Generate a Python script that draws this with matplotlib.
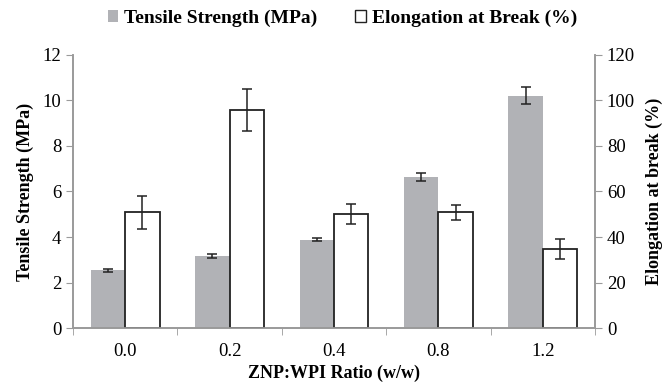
import numpy as np
import matplotlib.pyplot as plt
from matplotlib.patches import Patch

# data
ratios = ['0.0', '0.2', '0.4', '0.8', '1.2']
tensile = [2.53, 3.17, 3.88, 6.65, 10.2]
tensile_err = [0.07, 0.10, 0.06, 0.17, 0.37]
elongation = [50.8, 95.8, 50.0, 50.8, 34.8]
elongation_err = [7.2, 9.3, 4.4, 3.3, 4.3]

plt.rcParams['font.family'] = ['Liberation Serif', 'DejaVu Serif']

fig = plt.figure(figsize=(6.7, 3.92), dpi=100)
ax = fig.add_axes([0.109, 0.163, 0.779, 0.697])
ax2 = ax.twinx()

x = np.arange(len(ratios))
w = 0.33
gray = '#b1b2b6'
axis_col = '#9a9a9a'

ax.bar(x - w / 2, tensile, w, color=gray, edgecolor='none', zorder=2)
ax.errorbar(x - w / 2, tensile, yerr=tensile_err, fmt='none', ecolor='#222222',
            elinewidth=1.1, capsize=3.5, capthick=1.1, zorder=3)
ax2.bar(x + w / 2, elongation, w, color='white', edgecolor='#222222', linewidth=1.3, zorder=2)
ax2.errorbar(x + w / 2, elongation, yerr=elongation_err, fmt='none', ecolor='#222222',
             elinewidth=1.1, capsize=3.5, capthick=1.1, zorder=3)

ax.set_xlim(-0.5, len(ratios) - 0.5)
ax.set_ylim(0, 12)
ax.set_yticks(range(0, 13, 2))
ax2.set_ylim(0, 120)
ax2.set_yticks(range(0, 121, 20))

ax.set_xticks(x)
ax.set_xticklabels(ratios)
ax.set_xticks(np.arange(-0.5, len(ratios)), minor=True)
ax.tick_params(axis='x', which='major', length=0, pad=11, labelsize=13.5)
ax.tick_params(axis='x', which='minor', length=5, color=axis_col, direction='out')
ax.tick_params(axis='y', length=5, color=axis_col, labelsize=13.5)
ax2.tick_params(axis='y', length=5, color=axis_col, labelsize=13.5)

for a in (ax, ax2):
    a.spines['top'].set_visible(False)
    for s in ('left', 'right', 'bottom'):
        a.spines[s].set_color(axis_col)
        a.spines[s].set_linewidth(1.2)

ax.set_ylabel('Tensile Strength (MPa)', fontsize=13, fontweight='bold', labelpad=6)
ax2.set_ylabel('Elongation at break (%)', fontsize=13, fontweight='bold', labelpad=8)
ax.set_xlabel('ZNP:WPI Ratio (w/w)', fontsize=13, fontweight='bold', labelpad=3)

handles = [Patch(facecolor=gray, edgecolor='none', label='Tensile Strength (MPa)'),
           Patch(facecolor='white', edgecolor='#222222', label='Elongation at Break (%)')]
fig.legend(handles=handles, loc='upper center', bbox_to_anchor=(0.511, 1.02), ncol=2,
           frameon=False, prop={'weight': 'bold', 'size': 14}, handlelength=0.55,
           handleheight=0.55, handletextpad=0.3, columnspacing=1.95)

fig.savefig('out.png', dpi=100)
